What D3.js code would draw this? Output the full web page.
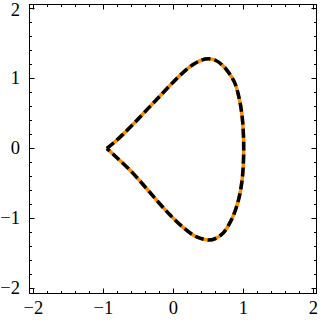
<!DOCTYPE html>
<html>
<head>
<meta charset="utf-8">
<script src="https://cdn.jsdelivr.net/npm/d3@7"></script>
<style>
  body { margin: 0; background: #fff; }
  svg { display: block; }
  .tick-label { font-family: 'Liberation Serif', 'Times New Roman', serif; font-size: 18.5px; fill: #000; }
</style>
</head>
<body>
<div class="chart"></div>
<script>
// Curve points: cusp -> top -> right -> bottom -> cusp
const curveX = [-0.95, -0.85, -0.72, -0.57, -0.38, -0.19, 0.0, 0.19, 0.3, 0.4, 0.5, 0.6, 0.7, 0.8, 0.88, 0.94, 0.98, 1.0, 1.005,
  1.0, 0.98, 0.93, 0.84, 0.72, 0.6, 0.5, 0.4, 0.3, 0.14, -0.05, -0.24, -0.43, -0.62, -0.81, -0.95];
const curveY = [0.0, 0.08, 0.2, 0.35, 0.55, 0.75, 0.95, 1.13, 1.21, 1.26, 1.28, 1.26, 1.19, 1.07, 0.93, 0.72, 0.48, 0.22, 0.0,
  -0.22, -0.47, -0.74, -1.0, -1.2, -1.29, -1.31, -1.29, -1.25, -1.13, -0.95, -0.74, -0.52, -0.31, -0.13, 0.0];

const majorTicks = [-2, -1, 0, 1, 2];
const minorTicks = d3.range(-20, 21, 2).map((d) => d / 10).filter((d) => !Number.isInteger(d));

// Set size of SVG
const svgWidth = 320;
const svgHeight = 322;

const frame = { left: 29.5, top: 4.5, right: 316.5, bottom: 293.5 };

const svg = d3
  .select('.chart')
  .append('svg')
  .attr('width', svgWidth)
  .attr('height', svgHeight);

const xScale = d3.scaleLinear().domain([-2.055, 2.045]).range([frame.left, frame.right]);
const yScale = d3.scaleLinear().domain([-2.075, 2.057]).range([frame.bottom, frame.top]);

// Curve: orange underneath, black dashes on top
const line = d3
  .line()
  .x((d) => xScale(d[0]))
  .y((d) => yScale(d[1]))
  .curve(d3.curveCatmullRom.alpha(0.5));

const pts = curveX.map((x, i) => [x, curveY[i]]);

svg.append('path')
  .datum(pts)
  .attr('d', line)
  .attr('fill', 'none')
  .attr('stroke', '#ff8c00')
  .attr('stroke-width', 3.5)
  .attr('stroke-linejoin', 'miter');

svg.append('path')
  .datum(pts)
  .attr('d', line)
  .attr('fill', 'none')
  .attr('stroke', '#000')
  .attr('stroke-width', 3.5)
  .attr('stroke-dasharray', '9,4')
  .attr('stroke-linejoin', 'miter');

// Frame
svg.append('rect')
  .attr('x', frame.left)
  .attr('y', frame.top)
  .attr('width', frame.right - frame.left)
  .attr('height', frame.bottom - frame.top)
  .attr('fill', 'none')
  .attr('stroke', '#000')
  .attr('stroke-width', 1);

// Inward ticks on all four sides
function addTicks(values, len) {
  const g = svg.append('g').attr('stroke', '#000').attr('stroke-width', 1);
  values.forEach((v) => {
    const x = Math.round(xScale(v)) + 0.5;
    const y = Math.round(yScale(v)) + 0.5;
    g.append('line').attr('x1', x).attr('x2', x).attr('y1', frame.bottom).attr('y2', frame.bottom - len);
    g.append('line').attr('x1', x).attr('x2', x).attr('y1', frame.top).attr('y2', frame.top + len);
    g.append('line').attr('x1', frame.left).attr('x2', frame.left + len).attr('y1', y).attr('y2', y);
    g.append('line').attr('x1', frame.right).attr('x2', frame.right - len).attr('y1', y).attr('y2', y);
  });
}
addTicks(majorTicks, 5);
addTicks(minorTicks, 2.5);

const fmt = d3.format('d');

svg.append('g')
  .selectAll('text')
  .data(majorTicks)
  .join('text')
  .attr('class', 'tick-label')
  .attr('x', (d) => xScale(d))
  .attr('y', 314)
  .attr('text-anchor', 'middle')
  .text((d) => fmt(d));

svg.append('g')
  .selectAll('text')
  .data(majorTicks)
  .join('text')
  .attr('class', 'tick-label')
  .attr('x', 20)
  .attr('y', (d) => Math.max(yScale(d) + 6, 15.5))
  .attr('text-anchor', 'end')
  .text((d) => fmt(d));
</script>
</body>
</html>
